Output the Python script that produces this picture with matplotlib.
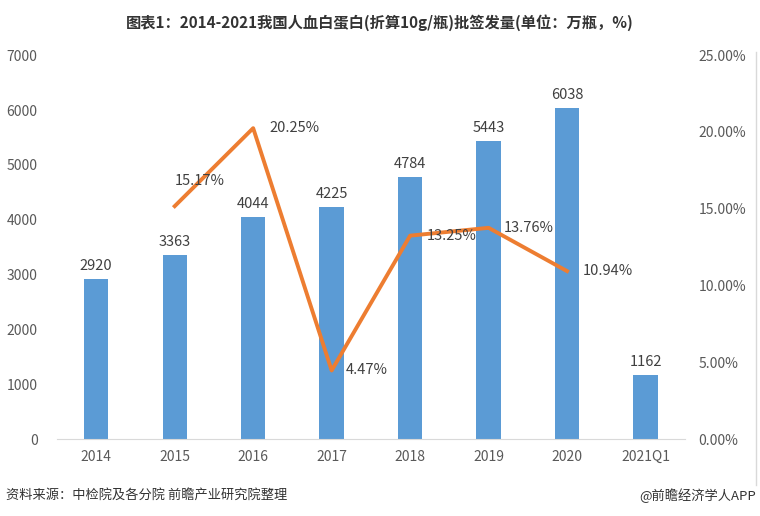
import matplotlib.pyplot as plt
import numpy as np

plt.rcParams['font.family'] = ['Noto Sans CJK SC', 'DejaVu Sans']

years = ['2014', '2015', '2016', '2017', '2018', '2019', '2020', '2021Q1']
volume = [2920, 3363, 4044, 4225, 4784, 5443, 6038, 1162]
growth_years = ['2015', '2016', '2017', '2018', '2019', '2020']
growth = [15.17, 20.25, 4.47, 13.25, 13.76, 10.94]

grey = '#595959'

fig = plt.figure(figsize=(7.6, 5.16), dpi=100)
ax = fig.add_axes([0.075, 0.149, 0.826, 0.744])

x = np.arange(len(years))
ax.bar(x, volume, width=0.31, color='#5B9BD5', zorder=2)
for xi, v in zip(x, volume):
    ax.text(xi, v + 110, str(v), ha='center', va='bottom', fontsize=10.5, color='#404040')

ax.set_xlim(-0.5, len(years) - 0.5)
ax.set_ylim(0, 7000)
ax.set_yticks(range(0, 7001, 1000))
ax.set_xticks(x)
ax.set_xticklabels(years)
ax.tick_params(axis='both', length=0, labelsize=10, colors=grey)
ax.tick_params(axis='y', pad=14)
ax.tick_params(axis='x', pad=8)
for s in ['top', 'right', 'left']:
    ax.spines[s].set_visible(False)
ax.spines['bottom'].set_color('#D9D9D9')

ax2 = ax.twinx()
gx = [years.index(g) for g in growth_years]
ax2.plot(gx, growth, color='#ED7D31', linewidth=2.8, zorder=3)
# label offsets in points (dx, dy)
offs = [(0, 18), (12, 0), (10, 0), (12, 0), (11, 0), (11, 0)]
for xi, g, (dx, dy) in zip(gx, growth, offs):
    ax2.annotate('%.2f%%' % g, (xi, g), xytext=(dx, dy), textcoords='offset points',
                 ha='left', va='center', fontsize=10.5, color='#404040')
ax2.set_ylim(0, 25)
ax2.set_yticks(range(0, 26, 5))
ax2.set_yticklabels(['%.2f%%' % t for t in range(0, 26, 5)])
ax2.tick_params(axis='y', length=0, labelsize=10, colors=grey, pad=10)
for s in ['top', 'right', 'left', 'bottom']:
    ax2.spines[s].set_visible(False)

fig.text(0.5, 0.957, '图表1：2014-2021我国人血白蛋白(折算10g/瓶)批签发量(单位：万瓶，%)',
         ha='center', va='center', fontsize=11, fontweight='bold', color='#333333')
fig.text(0.008, 0.04, '资料来源：中检院及各分院 前瞻产业研究院整理', ha='left', va='center',
         fontsize=9.5, color='#333333')
fig.text(0.995, 0.04, '@前瞻经济学人APP', ha='right', va='center', fontsize=9.5, color='#333333')
fig.add_artist(plt.Line2D([0.995, 0.995], [0.06, 0.9], color='#D9D9D9', linewidth=1))

fig.savefig('out.png', dpi=100)
